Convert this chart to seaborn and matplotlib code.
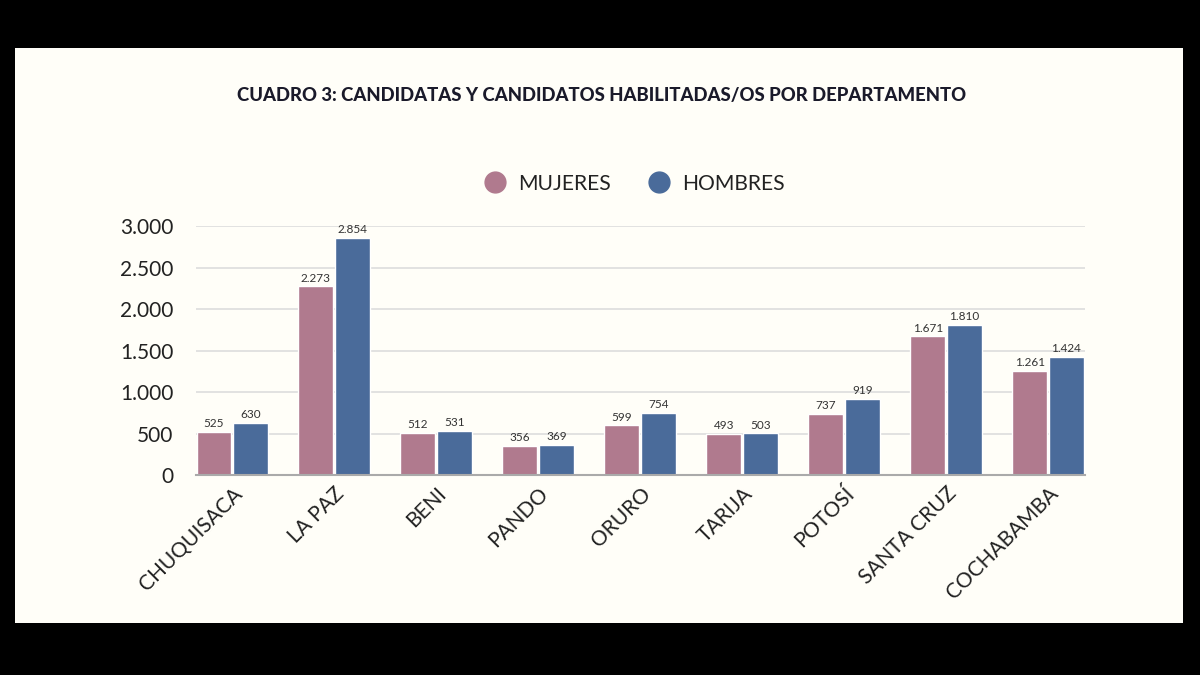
import seaborn as sns
import matplotlib.pyplot as plt
import pandas as pd
from matplotlib.patches import Rectangle
from matplotlib.ticker import FuncFormatter

departamentos = ["CHUQUISACA", "LA PAZ", "BENI", "PANDO", "ORURO",
                 "TARIJA", "POTOSÍ", "SANTA CRUZ", "COCHABAMBA"]
mujeres = [525, 2273, 512, 356, 599, 493, 737, 1671, 1261]
hombres = [630, 2854, 531, 369, 754, 503, 919, 1810, 1424]
series = ["MUJERES", "HOMBRES"]
colores = ["#B07A8E", "#4A6B9A"]

df = pd.DataFrame({
    "dep": departamentos * 2,
    "sexo": [series[0]] * len(mujeres) + [series[1]] * len(hombres),
    "valor": mujeres + hombres,
})

sns.set_style("white")
plt.rcParams["font.family"] = ["Lato", "DejaVu Sans"]

fig = plt.figure(figsize=(12, 6.75), dpi=100)
fig.patch.set_facecolor("black")
fig.patches.append(Rectangle((15 / 1200, 52 / 675), 1168 / 1200, 575 / 675,
                             transform=fig.transFigure, facecolor="#FFFEF8",
                             edgecolor="none", zorder=-5))

ax = fig.add_axes([0.163, 0.296, 0.741, 0.369])
ax.set_facecolor("none")
ax.set_zorder(2)

sns.barplot(data=df, x="dep", y="valor", hue="sexo", hue_order=series,
            palette=colores, width=0.72, gap=0.05, ax=ax, legend=False,
            saturation=1)

miles = lambda v: f"{int(round(v)):,}".replace(",", ".")
for cont in ax.containers:
    ax.bar_label(cont, labels=[miles(b.get_height()) for b in cont],
                 padding=2, fontsize=8.5, color="#333333")

ax.set_xlim(-0.36, 8.36)
ax.set_ylim(0, 3000)
ax.set_yticks(range(0, 3001, 500))
ax.yaxis.set_major_formatter(FuncFormatter(lambda v, p: miles(v)))
ax.grid(axis="y", color="#DDDDDD", linewidth=1.2)
ax.set_axisbelow(True)
for s in ["top", "right", "left"]:
    ax.spines[s].set_visible(False)
ax.spines["bottom"].set_color("#AAAAAA")
ax.spines["bottom"].set_linewidth(1.5)
ax.tick_params(axis="both", length=0, labelsize=15, colors="#222222")
ax.tick_params(axis="y", pad=16)
ax.tick_params(axis="x", pad=6)
plt.setp(ax.get_xticklabels(), rotation=45, ha="right", rotation_mode="anchor")
ax.set_xlabel("")
ax.set_ylabel("")

fig.text(0.501, 0.859, "CUADRO 3: CANDIDATAS Y CANDIDATOS HABILITADAS/OS POR DEPARTAMENTO",
         ha="center", va="center", fontsize=13.3, fontweight="black", color="#1a1a2a")

handles = [plt.Line2D([], [], marker="o", linestyle="", markersize=15,
                      markerfacecolor=c, markeredgecolor=c) for c in colores]
fig.legend(handles, series, loc="center", bbox_to_anchor=(0.5245, 0.728), ncol=2,
           frameon=False, fontsize=15.2, handletextpad=0.1, columnspacing=1.3,
           labelcolor="#222222")

fig.savefig("out.png", dpi=100, facecolor=fig.get_facecolor())
